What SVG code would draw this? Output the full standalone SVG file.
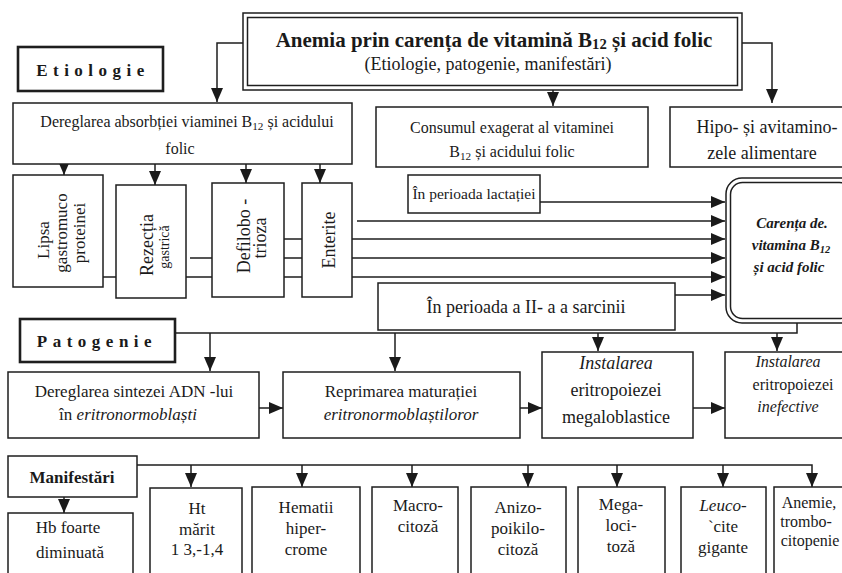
<svg xmlns="http://www.w3.org/2000/svg" width="842" height="573" viewBox="0 0 842 573">
<style>
.b{fill:#fff;stroke:#1e1e1e;stroke-width:1.5}
.tb{fill:#fff;stroke:#1e1e1e;stroke-width:2.6}
.c{fill:none;stroke:#1e1e1e;stroke-width:1.5}
text{font-family:"Liberation Serif","Times New Roman",serif;fill:#1a1a1a;text-anchor:middle}
.hd{font-weight:bold;font-size:17px;letter-spacing:5.5px}
.it{font-style:italic}
.s{font-size:70%}
</style>
<defs>
<marker id="ah" viewBox="0 0 14 12" refX="14" refY="6" markerWidth="14" markerHeight="12" orient="auto" markerUnits="userSpaceOnUse"><path d="M0,0 L14,6 L0,12 z" fill="#1a1a1a"/></marker>
</defs>
<rect width="842" height="573" fill="#fff"/>

<g id="connectors" class="c">
<path d="M243,43 H217 V102" marker-end="url(#ah)"/>
<path d="M553,90 V106" marker-end="url(#ah)"/>
<path d="M742,43 H772 V103" marker-end="url(#ah)"/>
<path d="M64,164 V175" marker-end="url(#ah)"/>
<path d="M155,164 V185" marker-end="url(#ah)"/>
<path d="M246,164 V183" marker-end="url(#ah)"/>
<path d="M320,164 V183" marker-end="url(#ah)"/>
<path d="M103,277 H116"/>
<path d="M190,258 H212 M186,277 H212"/>
<path d="M284,239 H302 M284,258 H302 M284,277 H302"/>
<path d="M540,202 H725" marker-end="url(#ah)"/>
<path d="M357,221 H725" marker-end="url(#ah)"/>
<path d="M352,239 H725" marker-end="url(#ah)"/>
<path d="M352,258 H725" marker-end="url(#ah)"/>
<path d="M352,277 H725" marker-end="url(#ah)"/>
<path d="M675,295 H725" marker-end="url(#ah)"/>
<path d="M797,323 V333 H175"/>
<path d="M210,333 V371" marker-end="url(#ah)"/>
<path d="M395,333 V371" marker-end="url(#ah)"/>
<path d="M598,333 V351" marker-end="url(#ah)"/>
<path d="M777,333 V351" marker-end="url(#ah)"/>
<path d="M245,408 H283" marker-end="url(#ah)"/>
<path d="M520,408 H542" marker-end="url(#ah)"/>
<path d="M693,408 H725" marker-end="url(#ah)"/>
<path d="M137,465 H812 V487" marker-end="url(#ah)"/>
<path d="M191,465 V487" marker-end="url(#ah)"/>
<path d="M302,465 V487" marker-end="url(#ah)"/>
<path d="M412,465 V487" marker-end="url(#ah)"/>
<path d="M528,465 V487" marker-end="url(#ah)"/>
<path d="M617,465 V487" marker-end="url(#ah)"/>
<path d="M723,465 V487" marker-end="url(#ah)"/>
<path d="M64,497 V513" marker-end="url(#ah)"/>
</g>

<g id="title">
<rect class="b" x="243" y="13" width="499" height="77"/>
<rect class="b" x="247.5" y="17.5" width="490" height="68" fill="none"/>
<text x="494" y="47" font-size="21" font-weight="bold">Anemia prin  carența de  vitamină  B<tspan class="s" dy="2">12</tspan><tspan dy="-2"> și  acid  folic</tspan></text>
<text x="488" y="70" font-size="18">(Etiologie, patogenie, manifestări)</text>
</g>

<g id="etiologie">
<rect class="tb" x="18" y="47" width="145" height="44"/>
<text class="hd" x="93" y="76">Etiologie</text>
</g>

<g id="dereglarea-absorbtiei">
<rect class="b" x="13" y="103" width="339" height="61"/>
<text x="187" y="127" font-size="16">Dereglarea absorbției viaminei  B<tspan class="s" dy="3">12</tspan><tspan dy="-3"> și  acidului</tspan></text>
<text x="180" y="154" font-size="16">folic</text>
</g>

<g id="consumul">
<rect class="b" x="376" y="107" width="272" height="60"/>
<text x="512" y="133" font-size="16">Consumul exagerat al vitaminei</text>
<text x="512" y="157" font-size="16">B<tspan class="s" dy="3">12</tspan><tspan dy="-3"> și  acidului  folic</tspan></text>
</g>

<g id="hipo">
<rect class="b" x="670" y="107" width="190" height="60"/>
<text x="767" y="133" font-size="18">Hipo- și avitamino-</text>
<text x="762" y="159" font-size="18">zele alimentare</text>
</g>

<g id="lipsa">
<rect class="b" x="13" y="175" width="90" height="112"/>
<text font-size="17" transform="translate(49,240) rotate(-90)">Lipsa</text>
<text font-size="17" transform="translate(67,233) rotate(-90)">gastromuco</text>
<text font-size="17" transform="translate(85,233) rotate(-90)">proteinei</text>
</g>

<g id="rezectia">
<rect class="b" x="116" y="185" width="70" height="113"/>
<text font-size="18" transform="translate(153,245) rotate(-90)">Rezecția</text>
<text font-size="14" transform="translate(169,247) rotate(-90)">gastrică</text>
</g>

<g id="defilobotrioza">
<rect class="b" x="212" y="183" width="72" height="114"/>
<text font-size="18" transform="translate(250,236) rotate(-90)">Defilobo -</text>
<text font-size="18" transform="translate(266,238) rotate(-90)">trioza</text>
</g>

<g id="enterite">
<rect class="b" x="302" y="183" width="50" height="114"/>
<text font-size="18" transform="translate(335,240) rotate(-90)">Enterite</text>
</g>

<g id="lactatiei">
<rect class="b" x="408" y="175" width="132" height="38"/>
<text x="474" y="199" font-size="15.5">În perioada lactației</text>
</g>

<g id="sarcinii">
<rect class="b" x="378" y="283" width="297" height="47"/>
<text x="526" y="313" font-size="18">În perioada a II- a  a sarcinii</text>
</g>

<g id="carenta">
<rect class="b" x="726" y="178" width="130" height="145" rx="16"/>
<rect class="b" x="730.5" y="182.5" width="121" height="136" rx="12" fill="none"/>
<text x="792" y="228" font-size="15" font-weight="bold" font-style="italic">Carența  de.</text>
<text x="791" y="250" font-size="15" font-weight="bold" font-style="italic">vitamina B<tspan class="s" dy="3">12</tspan></text>
<text x="789" y="272" font-size="15" font-weight="bold" font-style="italic">și  acid folic</text>
</g>

<g id="patogenie">
<rect class="tb" x="20" y="319" width="155" height="43"/>
<text class="hd" x="97" y="347">Patogenie</text>
</g>

<g id="dereglarea-sintezei">
<rect class="b" x="8" y="372" width="251" height="66"/>
<text x="134" y="397" font-size="17">Dereglarea sintezei ADN -lui</text>
<text x="128" y="420" font-size="17">în  <tspan class="it">eritronormoblaști</tspan></text>
</g>

<g id="reprimarea">
<rect class="b" x="283" y="372" width="237" height="66"/>
<text x="401" y="397" font-size="17">Reprimarea  maturației</text>
<text x="401" y="420" font-size="17" class="it">eritronormoblaștiloror</text>
</g>

<g id="megaloblastice">
<rect class="b" x="542" y="352" width="151" height="86"/>
<text x="616" y="369" font-size="18" class="it">Instalarea</text>
<text x="616" y="396" font-size="18">eritropoiezei</text>
<text x="616" y="423" font-size="18">megaloblastice</text>
</g>

<g id="inefective">
<rect class="b" x="725" y="352" width="130" height="86"/>
<text x="788" y="367" font-size="16" class="it">Instalarea</text>
<text x="793" y="390" font-size="16">eritropoiezei</text>
<text x="788" y="412" font-size="16" class="it">inefective</text>
</g>

<g id="manifestari">
<rect class="b" x="8" y="456" width="129" height="41" stroke-width="2"/>
<text x="72" y="483" font-size="17" font-weight="bold">Manifestări</text>
</g>

<g id="hb">
<rect class="b" x="8" y="513" width="125" height="70"/>
<text x="68" y="533" font-size="17">Hb foarte</text>
<text x="70" y="558" font-size="17">diminuată</text>
</g>

<g id="ht">
<rect class="b" x="150" y="488" width="92" height="95"/>
<text x="197" y="514" font-size="17">Ht</text>
<text x="197" y="535" font-size="17">mărit</text>
<text x="197" y="555" font-size="17">1 3,-1,4</text>
</g>

<g id="hematii">
<rect class="b" x="252" y="487" width="108" height="96"/>
<text x="306" y="513" font-size="17">Hematii</text>
<text x="306" y="534" font-size="17">hiper-</text>
<text x="306" y="555" font-size="17">crome</text>
</g>

<g id="macrocitoza">
<rect class="b" x="372" y="487" width="86" height="96"/>
<text x="418" y="511" font-size="17">Macro-</text>
<text x="418" y="532" font-size="17">citoză</text>
</g>

<g id="anizo">
<rect class="b" x="471" y="487" width="95" height="96"/>
<text x="518" y="513" font-size="17">Anizo-</text>
<text x="518" y="534" font-size="17">poikilo-</text>
<text x="518" y="555" font-size="17">citoză</text>
</g>

<g id="megalocitoza">
<rect class="b" x="578" y="487" width="87" height="96"/>
<text x="621" y="510" font-size="17">Mega-</text>
<text x="621" y="531" font-size="17">loci-</text>
<text x="621" y="552" font-size="17">toză</text>
</g>

<g id="leucocite">
<rect class="b" x="681" y="487" width="85" height="96"/>
<text x="723" y="511" font-size="17" class="it">Leuco-</text>
<text x="723" y="532" font-size="17">`cite</text>
<text x="723" y="553" font-size="17">gigante</text>
</g>

<g id="anemie">
<rect class="b" x="774" y="487" width="80" height="96"/>
<text x="809" y="508" font-size="16">Anemie,</text>
<text x="806" y="527" font-size="16">trombo-</text>
<text x="810" y="546" font-size="16">citopenie</text>
</g>
</svg>
